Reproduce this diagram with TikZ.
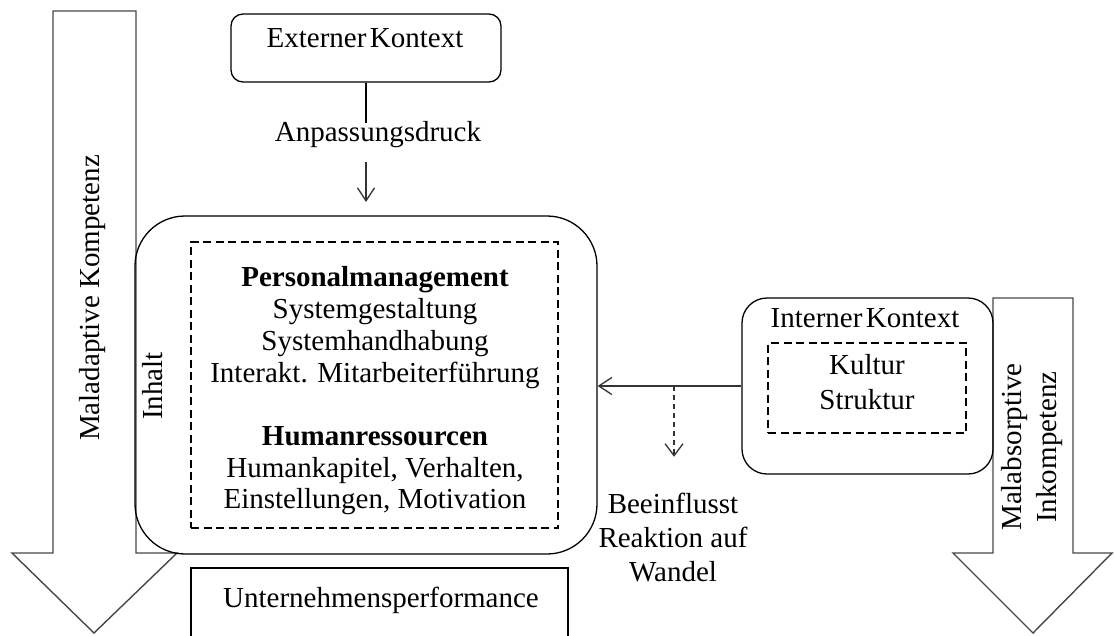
\documentclass[tikz,border=0pt]{standalone}
\usepackage{fontspec}
\setmainfont{Liberation Serif}
\usetikzlibrary{arrows.meta,calc}
\begin{document}
\begin{tikzpicture}[x=1pt,y=-1pt,
  every node/.style={font=\fontsize{29}{34}\selectfont, inner sep=0pt},
  txt/.style={text height=0.7em, text depth=0.25em},
  solidbox/.style={draw=black, line width=1.3pt},
  dashbox/.style={draw=black, line width=1.3pt, dash pattern=on 8pt off 4.5pt},
  bigarrow/.style={draw=black!72, line width=1.4pt, fill=white},
  arr/.style={draw=black!80, line width=1.3pt, -{Straight Barb[length=13pt,width=17pt,line width=1.3pt]}},
  darr/.style={draw=black!80, line width=1.3pt, dash pattern=on 5pt off 4pt, -{Straight Barb[length=12pt,width=18pt,line width=1.3pt,sep]}}]
\useasboundingbox (0,0) rectangle (1115,635);
\fill[white] (0,0) rectangle (1115,635);
\clip (0,0) rectangle (1115,635);

% left big arrow
\draw[bigarrow] (53,11) -- (136,11) -- (136,553) -- (177,553) -- (94,633) -- (12,553) -- (53,553) -- cycle;
\node[txt, rotate=90] (mal) at (97,298) {Maladaptive Kompetenz};

% right big arrow
\draw[bigarrow] (993,298) -- (1073,298) -- (1073,553) -- (1112,553) -- (1033,633) -- (953,553) -- (993,553) -- cycle;
\node[rotate=90, align=center, font=\fontsize{29}{35}\selectfont] (malabs) at (1032,447) {Malabsorptive\\Inkompetenz};

% external context
\node[solidbox, rounded corners=12pt, minimum width=270pt, minimum height=68pt] (ext) at (366,48) {};
\node[txt] (extt) at (365,45) {Externer\hspace{0.12em}Kontext};
\node[txt] (anp) at (378,139) {Anpassungsdruck};
\coordinate (l1) at (366,123);
\coordinate (a1) at (366,162);
\coordinate (a2) at (366,202);
\draw[solidbox] (ext.south -| l1) -- (l1);
\draw[arr] (a1) -- (a2);

% main box
\node[solidbox, rounded corners=50pt, minimum width=462pt, minimum height=338pt] (main) at (366,385) {};
\node[dashbox, minimum width=367pt, minimum height=286pt] (inner) at (374.5,385) {};
\node[txt, rotate=90] (inh) at (160,386) {Inhalt};
\node[align=center, font=\fontsize{29}{31.7}\selectfont] (content) at (375,391)
  {\textbf{Personalmanagement}\\Systemgestaltung\\Systemhandhabung\\Interakt. Mitarbeiterführung\\[31.7pt]\textbf{Humanressourcen}\\Humankapitel, Verhalten,\\Einstellungen, Motivation};

% performance
\node[solidbox, minimum width=377pt, minimum height=80pt] (perf) at (379.5,608) {};
\node[txt] (perft) at (381,605) {Unternehmensperformance};

% internal context
\node[solidbox, rounded corners=25pt, minimum width=251pt, minimum height=176pt] (int) at (867.5,386) {};
\node[txt] (intt) at (865,325) {Interner\hspace{0.12em}Kontext};
\node[dashbox, minimum width=198pt, minimum height=90pt] (intin) at (867,388) {};
\node[txt] (kul) at (867,372) {Kultur};
\node[txt] (str) at (867,407) {Struktur};

\draw[arr] (int.west) -- (int.west -| main.east);
\coordinate (sp) at (674,386);
\coordinate (spe) at (674,458);
\draw[darr] (sp) -- (spe);
\node[align=center, font=\fontsize{29}{34}\selectfont] (bee) at (673,537) {Beeinflusst\\Reaktion auf\\Wandel};
\end{tikzpicture}
\end{document}
